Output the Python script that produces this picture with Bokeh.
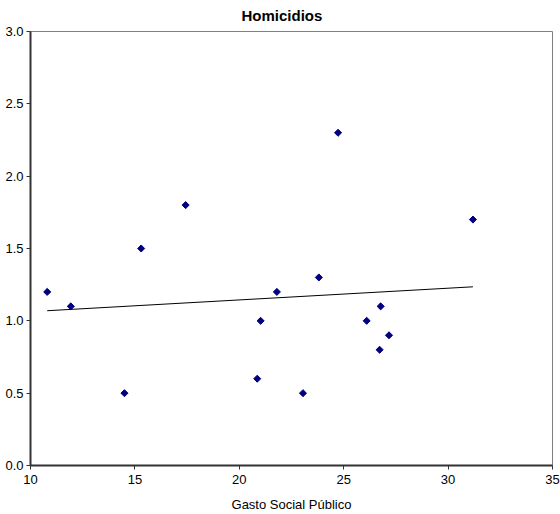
import numpy as np
from bokeh.plotting import figure
from bokeh.models import Range1d, FixedTicker, NumeralTickFormatter
from bokeh.embed import file_html
from bokeh.resources import INLINE

gasto = [10.8, 11.93, 14.5, 15.3, 17.43, 20.86, 21.02, 21.8, 23.05, 23.81,
         24.73, 26.1, 26.72, 26.77, 27.17, 31.19]
homicidios = [1.2, 1.1, 0.5, 1.5, 1.8, 0.6, 1.0, 1.2, 0.5, 1.3,
              2.3, 1.0, 0.8, 1.1, 0.9, 1.7]
x_ticks = [10, 15, 20, 25, 30, 35]
y_ticks = [0.0, 0.5, 1.0, 1.5, 2.0, 2.5, 3.0]
title_text = "Homicidios"

FONT = "Liberation Sans"

p = figure(width=560, height=514, output_backend="svg", toolbar_location=None,
           x_range=Range1d(10, 35), y_range=Range1d(0, 3.0),
           min_border_left=30, min_border_right=8, min_border_top=31,
           min_border_bottom=49)

p.title.text = title_text
p.title.align = "left"
p.title.offset = 211
p.title.vertical_align = "top"
p.title.standoff = 12
p.title.text_font = FONT
p.title.text_font_size = "15px"
p.title.text_font_style = "bold"
p.title.text_color = "black"

p.xgrid.visible = False
p.ygrid.visible = False
p.outline_line_color = "#808080"
p.outline_line_width = 1

for ax in (p.xaxis[0], p.yaxis[0]):
    ax.axis_line_color = "#333333"
    ax.axis_line_width = 2
    ax.major_tick_line_color = "#333333"
    ax.major_tick_in = 0
    ax.major_tick_out = 4
    ax.minor_tick_line_color = None
    ax.major_label_text_font = FONT
    ax.major_label_text_font_size = "13px"
    ax.major_label_text_color = "black"

p.xaxis.ticker = FixedTicker(ticks=x_ticks)
p.yaxis.ticker = FixedTicker(ticks=y_ticks)
p.yaxis.formatter = NumeralTickFormatter(format="0.0")
p.yaxis.major_label_standoff = 3
p.xaxis.major_label_standoff = 5
p.xaxis.axis_label = "Gasto Social Público"
p.xaxis.axis_label_text_font = FONT
p.xaxis.axis_label_text_font_size = "13px"
p.xaxis.axis_label_text_font_style = "normal"
p.xaxis.axis_label_text_color = "black"
p.xaxis.axis_label_standoff = 10

# linear trend line
slope, intercept = np.polyfit(gasto, homicidios, 1)
xs = [min(gasto), max(gasto)]
ys = [slope * v + intercept for v in xs]
p.line(xs, ys, line_color="black", line_width=1)

p.scatter(gasto, homicidios, marker="square", angle=np.pi / 4, size=5,
          fill_color="#000080", line_color="#000080")

open("out.html", "w").write(file_html(p, INLINE))
